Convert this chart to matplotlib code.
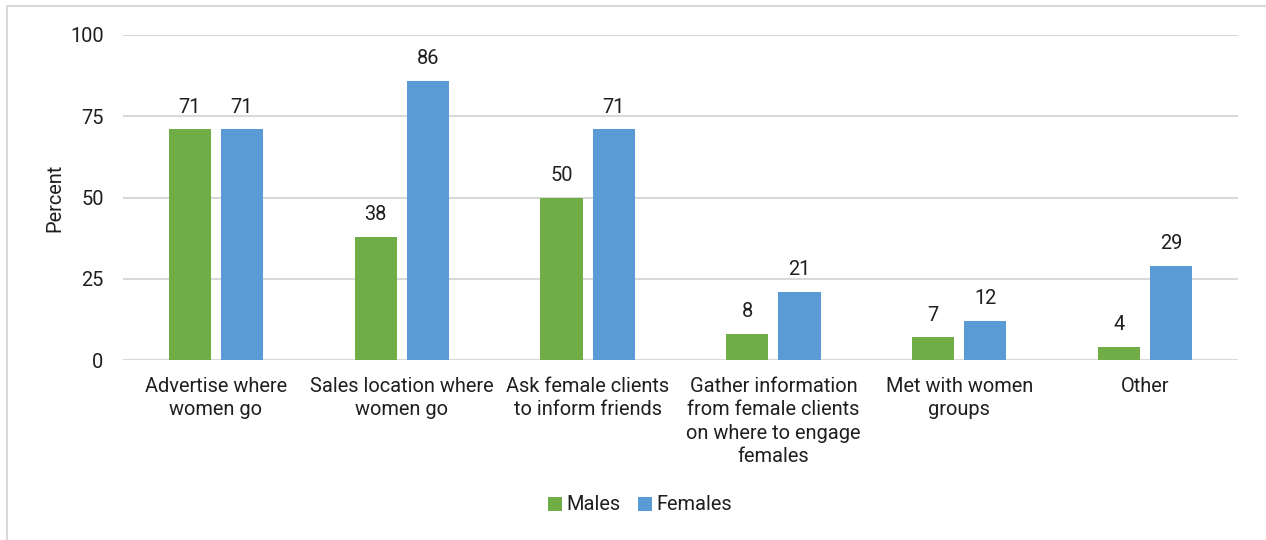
import matplotlib
matplotlib.use("Agg")
import matplotlib.pyplot as plt
from matplotlib.patches import Rectangle
import numpy as np

categories = ["Advertise where\nwomen go",
              "Sales location where\nwomen go",
              "Ask female clients\nto inform friends",
              "Gather information\nfrom female clients\non where to engage\nfemales",
              "Met with women\ngroups",
              "Other"]
males = [71, 38, 50, 8, 7, 4]
females = [71, 86, 71, 21, 12, 29]
series_names = ["Males", "Females"]
yticks = [0, 25, 50, 75, 100]

plt.rcParams['font.family'] = ['Roboto', 'DejaVu Sans']
TXT = '#1f1f1f'
GREEN = '#70AD47'
BLUE = '#5B9BD5'
GRID = '#D9D9D9'
FS = 14.4

W, H = 1266, 540
fig = plt.figure(figsize=(W / 100, H / 100), dpi=100)
ax = fig.add_axes([123 / W, 1 - 360 / H, (1238 - 123) / W, (360 - 35) / H])

x = np.arange(len(categories))
bw = 0.227
b1 = ax.bar(x - 0.14, males, bw, color=GREEN, label=series_names[0], zorder=3)
b2 = ax.bar(x + 0.14, females, bw, color=BLUE, label=series_names[1], zorder=3)

for bars in (b1, b2):
    for r in bars:
        ax.annotate(f"{r.get_height():.0f}", (r.get_x() + r.get_width() / 2, r.get_height()),
                    xytext=(0, 12), textcoords='offset points', ha='center', va='baseline',
                    fontsize=FS, color=TXT)

ax.set_xlim(-0.5, len(categories) - 0.5)
ax.set_ylim(0, 100)
ax.set_yticks(yticks)
ax.set_yticklabels([str(v) for v in yticks])
ax.set_xticks(x)
ax.set_xticklabels(categories, linespacing=1.3)
ax.tick_params(axis='both', length=0, labelsize=FS, colors=TXT)
ax.tick_params(axis='x', pad=12)
ax.tick_params(axis='y', pad=14)
for s in ax.spines.values():
    s.set_visible(False)
ax.yaxis.grid(True, color=GRID, linewidth=1.5, zorder=0)
ax.set_axisbelow(True)
ax.set_ylabel("Percent", fontsize=FS, color=TXT, labelpad=4)

leg = fig.legend(handles=[b1, b2], labels=series_names, loc='center',
                 bbox_to_anchor=(640 / W, 1 - 505 / H), ncol=2, frameon=False,
                 fontsize=FS, handlelength=0.7, handleheight=0.7,
                 handletextpad=0.2, columnspacing=0.9)
for t in leg.get_texts():
    t.set_color(TXT)

fig.patches.append(Rectangle((7 / W, -0.1), 1.2, 1 - 6 / H + 0.1, transform=fig.transFigure,
                             fill=False, edgecolor=GRID, linewidth=1.5))

fig.savefig("out.png", dpi=100, facecolor='white')
